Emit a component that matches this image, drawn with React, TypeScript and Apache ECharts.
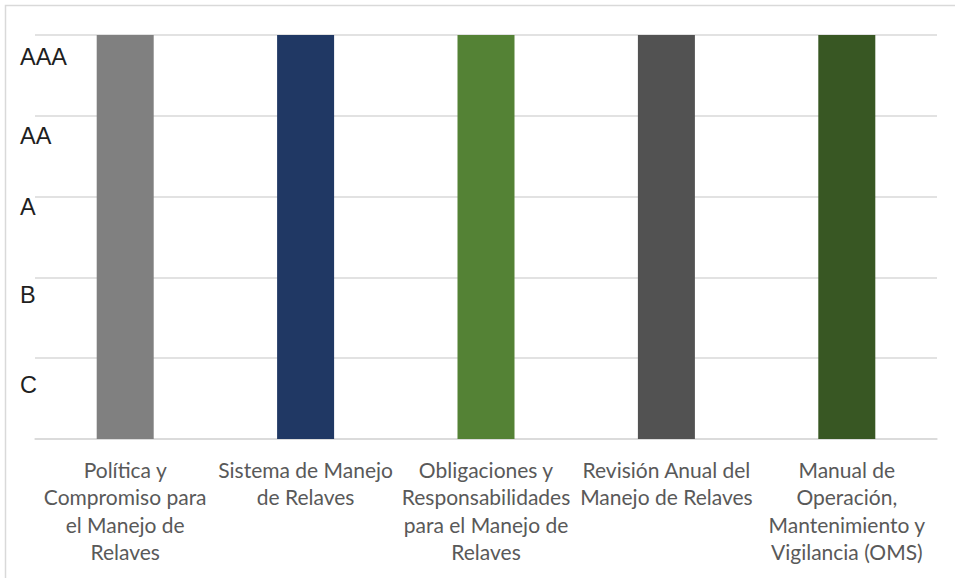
import React, { useEffect, useRef } from "react";
import * as echarts from "echarts";

const categories = [
  "Política y\nCompromiso para\nel Manejo de\nRelaves",
  "Sistema de Manejo\nde Relaves",
  "Obligaciones y\nResponsabilidades\npara el Manejo de\nRelaves",
  "Revisión Anual del\nManejo de Relaves",
  "Manual de\nOperación,\nMantenimiento y\nVigilancia (OMS)",
];
const values = [5, 5, 5, 5, 5];
const barColors = ["#808080", "#203864", "#548235", "#525252", "#385723"];
const levelLabels = ["C", "B", "A", "AA", "AAA"];

export default function App() {
  const ref = useRef<HTMLDivElement>(null);
  useEffect(() => {
    if (!ref.current) return;
    const chart = echarts.init(ref.current, undefined, { renderer: "svg" });
    const lh: Record<string, number> = { l1: 54, l2: 36, l3: 20, l4: 40, l5: 43 };
    const rich: Record<string, any> = {};
    Object.keys(lh).forEach((k) => {
      rich[k] = {
        lineHeight: lh[k],
        fontSize: 23.5,
        fontFamily: "Liberation Sans, Arial, sans-serif",
        color: "#1f1f1f",
      };
    });
    chart.setOption({
      animation: false,
      backgroundColor: "#ffffff",
      graphic: [
        {
          type: "rect",
          shape: { x: 5.5, y: 5.5, width: 1000, height: 700 },
          style: { fill: "none", stroke: "#d9d9d9", lineWidth: 1.5 },
          silent: true,
        },
      ],
      grid: { left: 35, right: 18, top: 35, bottom: 139, containLabel: false },
      xAxis: {
        type: "category",
        data: categories,
        axisLine: { show: true, lineStyle: { color: "#d9d9d9", width: 1.5 } },
        axisTick: { show: false },
        axisLabel: {
          interval: 0,
          margin: 17,
          fontFamily: "Lato, sans-serif",
          fontSize: 21,
          lineHeight: 27.3,
          color: "#595959",
          align: "center",
        },
      },
      yAxis: {
        type: "value",
        min: 0,
        max: 5,
        interval: 1,
        axisLine: { show: false },
        axisTick: { show: false },
        splitLine: { show: true, lineStyle: { color: "#d9d9d9", width: 1.5 } },
        axisLabel: {
          show: true,
          align: "left",
          verticalAlign: "top",
          margin: 15,
          formatter: (v: number) =>
            v >= 1 && v <= 5 ? `{l${v}|${levelLabels[v - 1]}}` : "",
          rich,
        },
      },
      series: [
        {
          type: "bar",
          barWidth: 57,
          data: values.map((v, i) => ({
            value: v,
            itemStyle: { color: barColors[i] },
          })),
        },
      ],
    });
    return () => chart.dispose();
  }, []);
  return (
    <div
      ref={ref}
      style={{ position: "fixed", left: 0, top: 0, width: 955, height: 578 }}
    />
  );
}
